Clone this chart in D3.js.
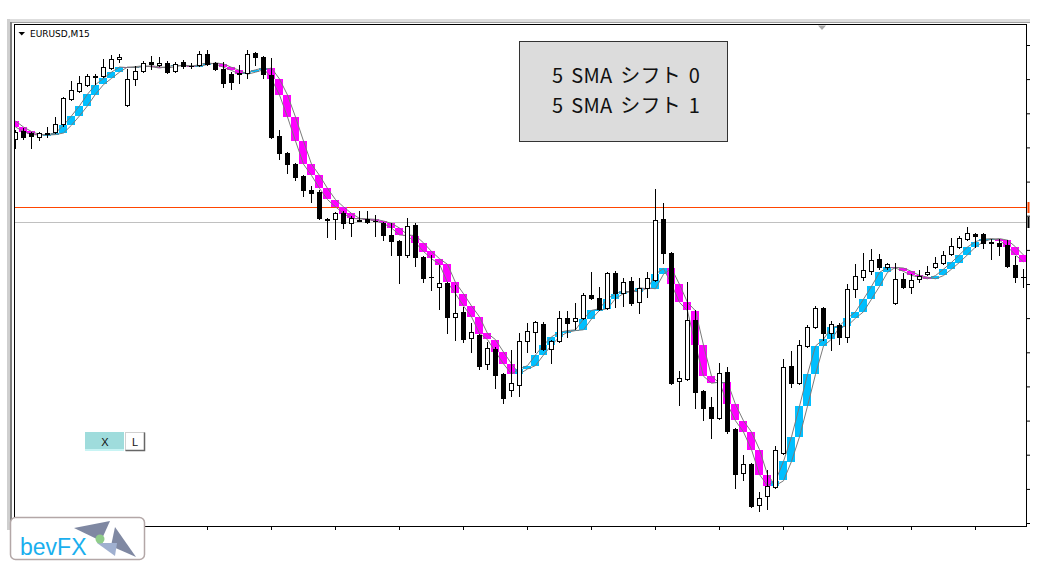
<!DOCTYPE html>
<html><head><meta charset="utf-8">
<script src="https://cdn.jsdelivr.net/npm/d3@7"></script>
<style>html,body{margin:0;padding:0;background:#fff;overflow:hidden}</style>
</head><body>
<svg id="chart" width="1044" height="574" xmlns="http://www.w3.org/2000/svg"></svg>
<script>
// ---------- data (EURUSD M15) ----------
const symbolLabel = "EURUSD,M15";
const legendLines = ["5 SMA シフト 0", "5 SMA シフト 1"];

const openPrice = [1.13861,1.13869,1.13867,1.13863,1.13867,1.13868,1.13876,1.13901,1.13909,1.13915,
1.13923,1.13924,1.13932,1.13941,1.13895,1.13921,1.13929,1.13938,1.13935,1.13937,
1.13929,1.13938,1.13934,1.13935,1.13946,1.13937,1.13931,1.13926,1.13926,1.13927,
1.13947,1.13943,1.13925,1.13864,1.13847,1.13836,1.13824,1.13810,1.13808,1.13781,
1.13781,1.13787,1.13777,1.13780,1.13781,1.13779,1.13777,1.13765,1.13759,1.13745,
1.13775,1.13743,1.13723,1.13713,1.13717,1.13683,1.13688,1.13662,1.13665,1.13636,
1.13651,1.13626,1.13610,1.13615,1.13659,1.13668,1.13676,1.13651,1.13659,1.13682,
1.13679,1.13682,1.13705,1.13702,1.13692,1.13727,1.13707,1.13719,1.13698,1.13712,
1.13720,1.13781,1.13747,1.13619,1.13621,1.13680,1.13609,1.13593,1.13582,1.13628,
1.13571,1.13527,1.13536,1.13495,1.13504,1.13513,1.13547,1.13634,1.13617,1.13654,
1.13673,1.13692,1.13667,1.13675,1.13663,1.13711,1.13723,1.13729,1.13741,1.13733,
1.13697,1.13721,1.13713,1.13721,1.13726,1.13733,1.13737,1.13746,1.13753,1.13761,
1.13766,1.13766,1.13758,1.13757,1.13755,1.13735,1.13723];

const highPrice = [1.13870,1.13872,1.13868,1.13868,1.13873,1.13883,1.13903,1.13919,1.13924,1.13926,
1.13926,1.13941,1.13945,1.13946,1.13931,1.13934,1.13939,1.13944,1.13943,1.13939,
1.13938,1.13940,1.13937,1.13949,1.13950,1.13938,1.13938,1.13928,1.13935,1.13950,
1.13948,1.13944,1.13942,1.13870,1.13848,1.13837,1.13825,1.13814,1.13810,1.13782,
1.13788,1.13789,1.13784,1.13789,1.13789,1.13785,1.13778,1.13777,1.13760,1.13782,
1.13777,1.13744,1.13745,1.13735,1.13718,1.13715,1.13693,1.13677,1.13666,1.13658,
1.13653,1.13627,1.13650,1.13667,1.13677,1.13679,1.13678,1.13660,1.13689,1.13689,
1.13697,1.13707,1.13728,1.13713,1.13728,1.13729,1.13722,1.13723,1.13722,1.13728,
1.13811,1.13797,1.13748,1.13629,1.13718,1.13690,1.13610,1.13603,1.13637,1.13633,
1.13572,1.13545,1.13537,1.13508,1.13530,1.13554,1.13641,1.13649,1.13660,1.13675,
1.13694,1.13693,1.13679,1.13677,1.13716,1.13736,1.13747,1.13751,1.13746,1.13737,
1.13737,1.13727,1.13726,1.13730,1.13734,1.13743,1.13749,1.13762,1.13764,1.13773,
1.13767,1.13767,1.13761,1.13761,1.13760,1.13744,1.13731];

const lowPrice = [1.13852,1.13861,1.13852,1.13860,1.13863,1.13867,1.13874,1.13900,1.13908,1.13914,
1.13916,1.13923,1.13931,1.13938,1.13894,1.13915,1.13928,1.13931,1.13934,1.13927,
1.13928,1.13932,1.13932,1.13934,1.13935,1.13930,1.13913,1.13911,1.13917,1.13922,
1.13935,1.13922,1.13862,1.13841,1.13827,1.13820,1.13804,1.13798,1.13781,1.13763,
1.13761,1.13772,1.13764,1.13779,1.13777,1.13764,1.13760,1.13745,1.13717,1.13743,
1.13734,1.13718,1.13710,1.13691,1.13667,1.13660,1.13658,1.13648,1.13631,1.13631,
1.13612,1.13597,1.13604,1.13604,1.13648,1.13648,1.13650,1.13637,1.13658,1.13663,
1.13671,1.13681,1.13701,1.13690,1.13691,1.13693,1.13694,1.13695,1.13687,1.13703,
1.13719,1.13737,1.13616,1.13595,1.13620,1.13592,1.13580,1.13562,1.13581,1.13567,
1.13512,1.13520,1.13493,1.13489,1.13491,1.13512,1.13546,1.13613,1.13616,1.13653,
1.13672,1.13660,1.13650,1.13656,1.13658,1.13703,1.13720,1.13726,1.13731,1.13731,
1.13696,1.13712,1.13707,1.13718,1.13725,1.13732,1.13736,1.13745,1.13752,1.13760,
1.13753,1.13752,1.13741,1.13745,1.13733,1.13718,1.13713];

const closePrice = [1.13868,1.13863,1.138635,1.138665,1.13866,1.13876,1.13902,1.13910,1.13917,1.13924,
1.13924,1.13933,1.13941,1.13943,1.13921,1.13929,1.13937,1.13936,1.13937,1.13928,
1.13936,1.13934,1.139335,1.13946,1.13936,1.13931,1.13917,1.13918,1.13927,1.13946,
1.13943,1.13926,1.13863,1.13847,1.13836,1.13823,1.13810,1.13807,1.13782,1.13780,
1.13787,1.13777,1.13782,1.137795,1.13778,1.137785,1.13765,1.13759,1.13745,1.13774,
1.13743,1.13722,1.137225,1.13717,1.13683,1.13687,1.13661,1.13668,1.13634,1.13652,
1.13625,1.13602,1.13617,1.13659,1.13669,1.13678,1.13651,1.13659,1.13682,1.13677,
1.13682,1.13705,1.13702,1.13691,1.13727,1.13707,1.13718,1.13697,1.13712,1.13722,
1.13780,1.13747,1.13617,1.13622,1.13680,1.13608,1.13592,1.13582,1.13627,1.13569,
1.13526,1.13536,1.13494,1.13502,1.13514,1.13550,1.13633,1.13617,1.13655,1.13673,
1.13692,1.13667,1.13676,1.13663,1.13711,1.13724,1.13730,1.13740,1.13733,1.13736,
1.13721,1.13713,1.13720,1.13724,1.13728,1.13737,1.13745,1.13754,1.13762,1.13767,
1.13764,1.13757,1.13757,1.13754,1.13734,1.13723,1.137225];

// 5 SMA (shift 0) as read from the ribbon; shift 1 is the same line one bar later
const sma5 = [1.13873,1.138685,1.138655,1.13865,1.138654,1.13867,1.138748,1.138841,1.138942,1.139058,
1.139154,1.139216,1.139278,1.13933,1.139324,1.139334,1.139342,1.139332,1.13932,1.139334,
1.139348,1.139342,1.139337,1.139355,1.139371,1.139361,1.139327,1.139296,1.139258,1.139278,
1.139302,1.13932,1.13921,1.13905,1.13883,1.13859,1.138358,1.138246,1.138116,1.138004,
1.137932,1.137866,1.137816,1.137811,1.137807,1.13779,1.137766,1.13772,1.137651,1.137643,
1.137572,1.137486,1.137413,1.137357,1.137175,1.137063,1.136941,1.136832,1.136666,1.136604,
1.13648,1.136362,1.13626,1.13631,1.136344,1.13645,1.136548,1.136632,1.136678,1.136694,
1.136702,1.13681,1.136896,1.136914,1.137014,1.137064,1.13709,1.13708,1.137122,1.137112,
1.137258,1.137316,1.137156,1.136976,1.136892,1.136548,1.136238,1.136168,1.136178,1.135956,
1.135792,1.13568,1.135504,1.135254,1.135144,1.135192,1.135386,1.135632,1.135938,1.136256,
1.13654,1.136608,1.136726,1.136742,1.136818,1.136882,1.137008,1.137136,1.137276,1.137326,
1.13732,1.137286,1.137246,1.137228,1.137212,1.137244,1.137308,1.137376,1.137452,1.13753,
1.137584,1.137608,1.137614,1.137598,1.137532,1.13745,1.137381];
const smaBeforeFirstBar = 1.13879;

const askLinePrice = 1.137925;
const bidLinePrice = 1.137775;
const priceTicks = [1.13955,1.139209,1.138867,1.138526,1.138184,1.137843,1.137501,1.13716,1.136819,1.136477,1.136136,1.135794,1.135453,1.135111,1.13477];
const timeTickBars = [8,16,24,32,40,48,56,64,72,80,88,96,104,112,120];

// ---------- drawing ----------
const svg = d3.select("#chart");
const frame = {left: 14.5, top: 24.5, right: 1026.5, bottom: 526.5};

const x = d3.scaleLinear().domain([0, 126]).range([15, 1023]);
const y = d3.scaleLinear().domain([1.13, 1.14]).range([1000, 0]);
const px = v => Math.round(v) + 0.5;

const bars = openPrice.map((o, i) => ({i, o, h: highPrice[i], l: lowPrice[i], c: closePrice[i],
  s: sma5[i], sp: i === 0 ? smaBeforeFirstBar : sma5[i - 1]}));

// window chrome
svg.append("rect").attr("x", 7).attr("y", 19).attr("width", 1023).attr("height", 3).attr("fill", "#dedede");
svg.append("rect").attr("x", 7).attr("y", 22).attr("width", 1023).attr("height", 1).attr("fill", "#a0a0a0");
svg.append("rect").attr("x", 7).attr("y", 19).attr("width", 3).attr("height", 511).attr("fill", "#cfcfcf");
svg.append("rect").attr("x", 10).attr("y", 22).attr("width", 2).attr("height", 508).attr("fill", "#808080");

const plot = svg.append("g");
plot.append("defs").append("clipPath").attr("id", "clip")
  .append("rect").attr("x", frame.left).attr("y", frame.top)
  .attr("width", frame.right - frame.left).attr("height", frame.bottom - frame.top);
const inner = plot.append("g").attr("clip-path", "url(#clip)");

// price lines
inner.append("line").attr("x1", frame.left).attr("x2", frame.right)
  .attr("y1", px(y(askLinePrice))).attr("y2", px(y(askLinePrice)))
  .attr("stroke", "#ff4500").attr("stroke-width", 1);
inner.append("line").attr("x1", frame.left).attr("x2", frame.right)
  .attr("y1", px(y(bidLinePrice))).attr("y2", px(y(bidLinePrice)))
  .attr("stroke", "#c0c0c0").attr("stroke-width", 1);

// SMA ribbon (shift 0 vs shift 1)
inner.append("g").selectAll("rect").data(bars).join("rect")
  .attr("x", d => Math.round(x(d.i)) - 4)
  .attr("width", 8)
  .attr("y", d => Math.round(Math.min(y(d.s), y(d.sp))))
  .attr("height", d => Math.max(1, Math.round(Math.abs(y(d.s) - y(d.sp)))))
  .attr("fill", d => d.s >= d.sp ? "#00bfff" : "#ff00ff");

// SMA lines
const lineS0 = d3.line().x(d => x(d.i) + 0.5).y(d => y(d.s));
const lineS1 = d3.line().x(d => x(d.i) + 0.5).y(d => y(d.sp));
inner.append("path").datum(bars).attr("d", lineS0).attr("fill", "none").attr("stroke", "#7a7a7a").attr("stroke-width", 1);
inner.append("path").datum(bars).attr("d", lineS1).attr("fill", "none").attr("stroke", "#7a7a7a").attr("stroke-width", 1);

// candles
const cg = inner.append("g").selectAll("g").data(bars).join("g");
cg.append("line")
  .attr("x1", d => px(x(d.i))).attr("x2", d => px(x(d.i)))
  .attr("y1", d => Math.round(y(d.h))).attr("y2", d => Math.round(y(d.l)) + 1)
  .attr("stroke", "#000").attr("stroke-width", 1);
cg.each(function(d) {
  const g = d3.select(this);
  const top = px(y(Math.max(d.o, d.c))), bot = px(y(Math.min(d.o, d.c)));
  const cx = px(x(d.i));
  if (bot - top < 1) {
    g.append("line").attr("x1", cx - 2.5).attr("x2", cx + 2.5).attr("y1", top).attr("y2", top)
      .attr("stroke", "#000").attr("stroke-width", 1);
  } else {
    g.append("rect").attr("x", cx - 2).attr("width", 4).attr("y", top).attr("height", bot - top)
      .attr("fill", d.c >= d.o ? "#fff" : "#000").attr("stroke", "#000").attr("stroke-width", 1);
  }
});

// axes (ticks only, labels lie outside the picture)
const yAxis = d3.axisRight(y).tickValues(priceTicks).tickSize(4).tickSizeOuter(0).tickFormat("");
const xAxis = d3.axisBottom(x).tickValues(timeTickBars).tickSize(4).tickSizeOuter(0).tickFormat("");
const ya = svg.append("g").attr("transform", `translate(${frame.right - 0.5},0)`).call(yAxis);
const xa = svg.append("g").attr("transform", `translate(0,${frame.bottom - 0.5})`).call(xAxis);
ya.select(".domain").remove(); xa.select(".domain").remove();
ya.selectAll("line").attr("stroke", "#000"); xa.selectAll("line").attr("stroke", "#000");

// frame
svg.append("rect").attr("x", frame.left).attr("y", frame.top)
  .attr("width", frame.right - frame.left).attr("height", frame.bottom - frame.top)
  .attr("fill", "none").attr("stroke", "#000").attr("stroke-width", 1);

// price label stubs on the right edge
svg.append("rect").attr("x", 1027.5).attr("y", px(y(askLinePrice)) - 5.5).attr("width", 2).attr("height", 11).attr("fill", "#ff4500");
svg.append("rect").attr("x", 1027.5).attr("y", px(y(bidLinePrice)) - 5.5).attr("width", 2).attr("height", 11).attr("fill", "#000");

// chart-shift marker
svg.append("path").attr("d", "M818,25.5 L826,25.5 L822,30 Z").attr("fill", "#a8a8a8");

// symbol label
svg.append("path").attr("d", "M18.5,32 L25,32 L21.75,35.5 Z").attr("fill", "#000");
svg.append("text").attr("x", 30).attr("y", 37).text(symbolLabel)
  .attr("font-family", "DejaVu Sans, sans-serif").attr("font-size", 9).attr("fill", "#000");

// legend box
svg.append("rect").attr("x", 519.5).attr("y", 41.5).attr("width", 208).attr("height", 100)
  .attr("fill", "#dcdcdc").attr("stroke", "#333").attr("stroke-width", 1);
svg.append("g").selectAll("text").data(legendLines).join("text")
  .attr("x", 552).attr("y", (d, k) => 83 + k * 30)
  .attr("font-family", "'Noto Sans CJK JP', sans-serif").attr("font-size", 20)
  .attr("word-spacing", 3).attr("letter-spacing", 0.3).attr("fill", "#111")
  .text(d => d);

// X / L buttons
svg.append("rect").attr("x", 85).attr("y", 432).attr("width", 39).attr("height", 19).attr("fill", "#9fdcdc");
svg.append("rect").attr("x", 85).attr("y", 449).attr("width", 39).attr("height", 2).attr("fill", "#c8f4f4");
svg.append("text").attr("x", 105).attr("y", 446).attr("text-anchor", "middle").text("X")
  .attr("font-family", "Liberation Sans, sans-serif").attr("font-size", 11).attr("fill", "#111");
svg.append("rect").attr("x", 125.5).attr("y", 432.5).attr("width", 19).attr("height", 18).attr("fill", "#fff").attr("stroke", "#d0d0d0");
svg.append("path").attr("d", "M144.5,432.5 V450.5 H125.5").attr("fill", "none").attr("stroke", "#666").attr("stroke-width", 1.5);
svg.append("text").attr("x", 135).attr("y", 446).attr("text-anchor", "middle").text("L")
  .attr("font-family", "Liberation Sans, sans-serif").attr("font-size", 11).attr("fill", "#111");

// bevFX logo
const logo = svg.append("g");
logo.append("rect").attr("x", 10.5).attr("y", 517.5).attr("width", 134).attr("height", 42).attr("rx", 5)
  .attr("fill", "#fff").attr("stroke", "#b3a7a7").attr("stroke-width", 1.5);
logo.append("text").attr("x", 20).attr("y", 555).text("bevFX")
  .attr("font-family", "Liberation Sans, sans-serif").attr("font-size", 23).attr("fill", "#1aafee");
logo.append("path").attr("d", "M74,528 L110,521 L101,541 Z").attr("fill", "#7f88a2");
logo.append("path").attr("d", "M115,527 L136,557 L111,546 Z").attr("fill", "#7f88a2");
logo.append("path").attr("d", "M97,543 L117,543 L115,556 Z").attr("fill", "#a0b0d0");
logo.append("circle").attr("cx", 100).attr("cy", 539).attr("r", 4.5).attr("fill", "#8fcc8a");
</script>
</body></html>
